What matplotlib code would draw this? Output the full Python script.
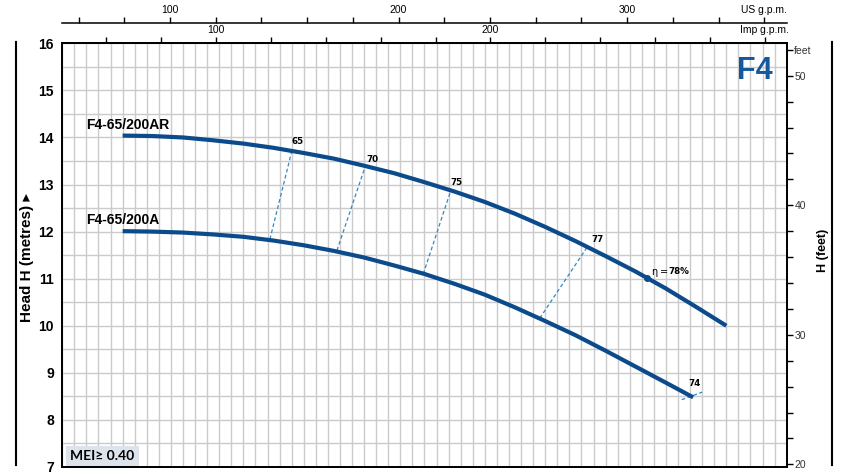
import numpy as np
import matplotlib.pyplot as plt
from matplotlib.lines import Line2D

# данные (Q в л/мин, H в метрах)
q_ar = [300, 350, 400, 450, 500, 550, 600, 650, 700, 750, 800, 850, 900, 950, 1000, 1050, 1100, 1150,
        1200, 1250, 1300]
h_ar = [14.04, 14.03, 14.00, 13.94, 13.87, 13.78, 13.67, 13.55, 13.40, 13.24, 13.05, 12.85, 12.63, 12.38,
        12.10, 11.80, 11.48, 11.15, 10.79, 10.40, 10.00]

q_a = [300, 350, 400, 450, 500, 550, 600, 650, 700, 750, 800, 850, 900, 950, 1000, 1050, 1100, 1150,
       1200, 1245]
h_a = [12.01, 12.00, 11.98, 11.94, 11.89, 11.81, 11.71, 11.59, 11.45, 11.28, 11.10, 10.89, 10.66, 10.39,
       10.10, 9.80, 9.47, 9.13, 8.79, 8.48]

# линии КПД: (Q сверху, H сверху) -> (Q снизу, H снизу)
eff_labels = ['65', '70', '75', '77', '74']
eff_q_top = [580, 702, 844, 1070, 1260]
eff_h_top = [13.70, 13.39, 12.89, 11.68, 8.59]
eff_q_bot = [544, 655, 798, 991, 1226]
eff_h_bot = [11.84, 11.60, 11.10, 10.16, 8.43]
eff_lab_q = [589, 714, 853, 1086, 1247]
eff_lab_h = [13.92, 13.54, 13.05, 11.84, 8.77]

best_q = 1168
best_h = 11.02

us_ticks = list(range(60, 361, 20))
imp_ticks = list(range(60, 301, 20))
ft_ticks = list(range(20, 53, 2))

navy = '#0b4a8b'
dash_blue = '#2f8ac4'
narrow = ['Liberation Sans Narrow', 'Liberation Sans', 'DejaVu Sans']
plt.rcParams['font.family'] = narrow

fig = plt.figure(figsize=(8.45, 4.74), dpi=100)
ax = fig.add_axes([0.0737, 0.0148, 0.8573, 0.8938])

ax.set_xlim(200, 1400)
ax.set_ylim(7, 16)
ax.set_xticks(np.arange(200, 1401, 20))
ax.set_yticks(np.arange(7, 17, 1))
ax.set_yticks(np.arange(7.5, 16, 1), minor=True)
ax.grid(True, which='both', color='#cbcbcb', lw=1.0)
ax.set_axisbelow(True)
ax.tick_params(axis='x', bottom=False, labelbottom=False, top=False)
ax.tick_params(axis='y', which='both', length=0, pad=6, labelsize=10)
for lab in ax.get_yticklabels():
    lab.set_fontweight('bold')
for s in ax.spines.values():
    s.set_linewidth(1.3)

# кривые
ax.plot(q_ar, h_ar, color=navy, lw=3, solid_capstyle='butt', solid_joinstyle='round', zorder=4)
ax.plot(q_a, h_a, color=navy, lw=3, solid_capstyle='butt', solid_joinstyle='round', zorder=4)
ax.plot([best_q], [best_h], 'o', color=navy, ms=4, zorder=5)

for i in range(len(eff_labels)):
    ax.plot([eff_q_bot[i], eff_q_top[i]], [eff_h_bot[i], eff_h_top[i]],
            color=dash_blue, lw=0.9, dashes=(3, 2), zorder=3)
    ax.text(eff_lab_q[i], eff_lab_h[i], eff_labels[i], ha='center', va='center',
            fontsize=6.3, fontweight='bold', family='DejaVu Sans')

ax.text(1176, 11.15, 'η', ha='left', va='center', fontsize=7, family='DejaVu Sans')
ax.text(1190, 11.15, '=', ha='left', va='center', fontsize=7, family='DejaVu Sans')
ax.text(1204, 11.15, '78%', ha='left', va='center', fontsize=6.3, fontweight='bold', family='DejaVu Sans')

ax.text(239, 14.265, 'F4-65/200AR', ha='left', va='center', fontsize=10, fontweight='bold')
ax.text(239, 12.25, 'F4-65/200A', ha='left', va='center', fontsize=10, fontweight='bold')

ax.text(0.98, 0.935, 'F4', transform=ax.transAxes, ha='right', va='center',
        fontsize=22, fontweight='bold', color='#15589e')
ax.text(0.011, 0.026, 'MEI≥ 0.40', transform=ax.transAxes, ha='left', va='center',
        fontsize=10, fontweight='bold', family=['Lato', 'DejaVu Sans'],
        bbox=dict(boxstyle='square,pad=0.3', fc='#dde3ea', ec='none'))

# верхние шкалы: Imp g.p.m. и US g.p.m.
imp = ax.secondary_xaxis('top', functions=(lambda x: x / 4.54609, lambda x: x * 4.54609))
imp.set_xticks(imp_ticks, [str(t) if t in (100, 200) else ('Imp g.p.m.' if t == 300 else '') for t in imp_ticks])
imp.tick_params(direction='out', length=4, width=1, pad=2, labelsize=7.5)
imp.spines['top'].set_linewidth(1.3)

us = ax.secondary_xaxis(1.047, functions=(lambda x: x / 3.78541, lambda x: x * 3.78541))
us.set_xticks(us_ticks, [str(t) if t in (100, 200, 300) else ('US g.p.m.' if t == 360 else '') for t in us_ticks])
us.tick_params(direction='out', length=4, width=1, pad=2, labelsize=7.5)
us.spines['top'].set_linewidth(1.1)

# правая шкала в футах
ax2 = ax.twinx()
ax2.set_ylim(19.8, 52.5)
ax2.set_yticks(ft_ticks, [str(t) if t % 10 == 0 else ('feet' if t == 52 else '') for t in ft_ticks])
ax2.tick_params(direction='out', length=4, width=1, pad=1.5, labelsize=7.5, labelcolor='#333333')
for s in ax2.spines.values():
    s.set_linewidth(1.3)

fig.text(26.5 / 845, 1 - 258 / 474, 'Head H (metres) ▸', rotation=90, ha='center', va='center',
         fontsize=11, fontweight='bold', family=['Liberation Sans', 'DejaVu Sans'])
fig.text(823 / 845, 1 - 250 / 474, 'H (feet)', rotation=90, ha='center', va='center',
         fontsize=9, fontweight='bold', family=['Liberation Sans', 'DejaVu Sans'])

fig.add_artist(Line2D([16 / 845, 16 / 845], [9 / 474, 432 / 474], color='black', lw=1.5))
fig.add_artist(Line2D([832.5 / 845, 832.5 / 845], [9 / 474, 432 / 474], color='black', lw=1.5))

fig.savefig('out.png', dpi=100)
